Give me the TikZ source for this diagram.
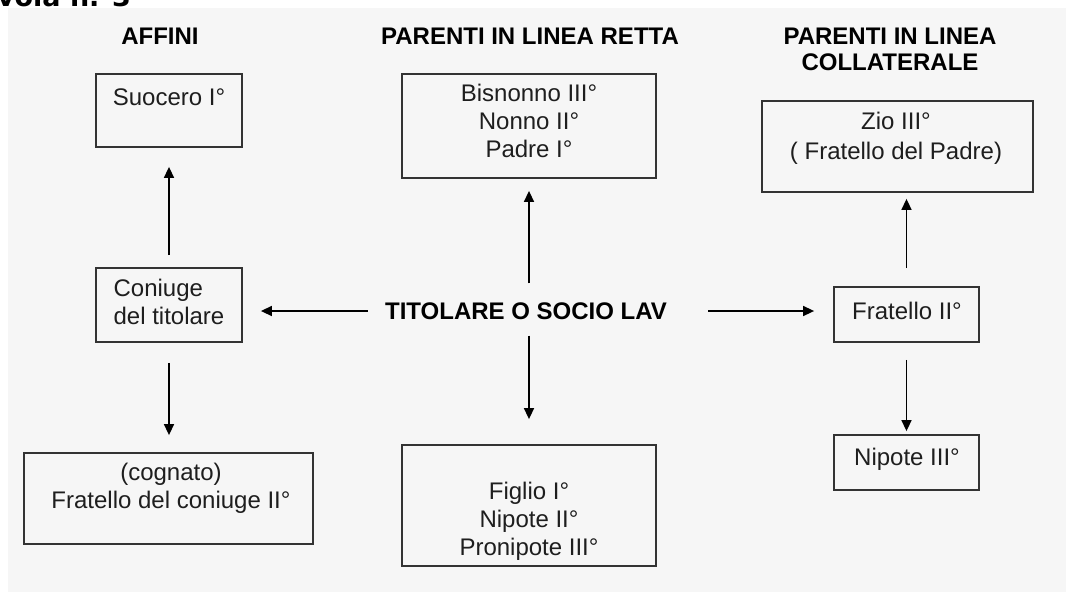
\documentclass[tikz,border=0pt]{standalone}
\usepackage{fontspec}
\setmainfont{Liberation Sans}
\newfontfamily\titlefont{DejaVu Sans}
\usetikzlibrary{arrows.meta}
\definecolor{panel}{HTML}{F6F6F6}
\definecolor{boxline}{HTML}{333333}
\definecolor{txt}{HTML}{1E1E1E}
\tikzset{
  box/.style={draw=boxline, line width=1.8pt, inner sep=0pt},
  lbl/.style={inner sep=0pt, text=txt, font=\fontsize{24}{28}\selectfont, align=center},
  head/.style={inner sep=0pt, text=black, font=\bfseries\fontsize{24}{26}\selectfont, align=center},
  arr/.style={draw=black, line width=1.5pt, -{Triangle[length=11pt,width=10pt]}}
}
\begin{document}
\begin{tikzpicture}[x=1pt,y=-1pt]
\useasboundingbox (0,0) rectangle (1066,592);
\fill[panel] (8,8) rectangle (1066,592);
\node[anchor=base east, inner sep=0pt, font=\titlefont\bfseries\fontsize{27}{27}\selectfont] (title) at (131,6) {Tavola n. 3};

% headers
\node[head] (hAff) at (160,36) {AFFINI};
\node[head] (hRet) at (530,36) {PARENTI IN LINEA RETTA};
\node[head] (hCol) at (890,49) {PARENTI IN LINEA\\COLLATERALE};

% boxes
\node[box, minimum width=146pt, minimum height=73pt] (suocero) at (169,110.5) {};
\node[box, minimum width=146pt, minimum height=74pt] (coniuge) at (169,305) {};
\node[box, minimum width=289pt, minimum height=91pt] (cognato) at (168.5,498.5) {};
\node[box, minimum width=254pt, minimum height=104pt] (bis) at (529,126) {};
\node[box, minimum width=254pt, minimum height=121pt] (figlio) at (529,505.5) {};
\node[box, minimum width=271pt, minimum height=91pt] (zio) at (897.5,146.5) {};
\node[box, minimum width=145pt, minimum height=55pt] (fratello) at (906.5,314.5) {};
\node[box, minimum width=145pt, minimum height=55pt] (nipote) at (906.5,462.5) {};

% texts
\node[lbl] (tSuo) at (169,97) {Suocero I°};
\node[lbl, align=left] (tCon) at (169,302) {Coniuge\\del titolare};
\node[lbl] (tCog) at (171,488) {(cognato)\\Fratello del coniuge II°};
\node[lbl] (tBis) at (529,121) {Bisnonno III°\\Nonno II°\\Padre I°};
\node[lbl] (tFig) at (529,521) {Figlio I°\\Nipote II°\\Pronipote III°};
\node[lbl, font=\fontsize{24}{30}\selectfont] (tZio) at (896,138) {Zio III°\\( Fratello del Padre)};
\node[lbl] (tFra) at (907,311) {Fratello II°};
\node[lbl] (tNip) at (907,459) {Nipote III°};

\node[head] (tit) at (526,311) {TITOLARE O SOCIO LAV};

% connectors
\draw[arr, shorten <=17pt, shorten >=18pt] (tit.west) -- (tit.west -| coniuge.east);
\draw[arr, shorten <=41pt, shorten >=19pt] (tit.east) -- (tit.east -| fratello.west);
\draw[arr, shorten <=19pt, shorten >=12pt] (bis.south |- tit.north) -- (bis.south);
\draw[arr, shorten <=16pt, shorten >=25pt] (figlio.north |- tit.south) -- (figlio.north);
\draw[arr, shorten <=12pt, shorten >=19pt] (coniuge.north) -- (suocero.south);
\draw[arr, shorten <=20pt, shorten >=17pt] (coniuge.south) -- (coniuge.south |- cognato.north);
\draw[arr, shorten <=18pt, shorten >=6pt] (fratello.north) -- (fratello.north |- zio.south);
\draw[arr, shorten <=17pt, shorten >=3pt] (fratello.south) -- (nipote.north);
\end{tikzpicture}
\end{document}
